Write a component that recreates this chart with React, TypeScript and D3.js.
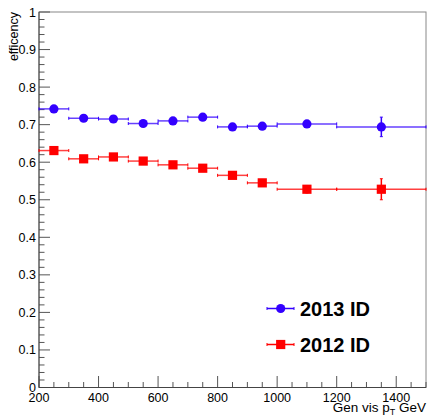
import { useEffect, useRef } from "react";
import * as d3 from "d3";

const W = 428;
const H = 419;
const MARGIN = { top: 12, right: 2, bottom: 31.5, left: 39 };

// bins (low/high edges), shared by both series
const binLow = [200, 300, 400, 500, 600, 700, 800, 900, 1000, 1200];
const binHigh = [300, 400, 500, 600, 700, 800, 900, 1000, 1200, 1500];

const eff2013 = [0.742, 0.717, 0.715, 0.703, 0.71, 0.72, 0.694, 0.696, 0.702, 0.694];
const err2013 = [0.004, 0.004, 0.004, 0.005, 0.005, 0.006, 0.007, 0.008, 0.008, 0.026];

const eff2012 = [0.631, 0.609, 0.614, 0.603, 0.593, 0.584, 0.565, 0.545, 0.528, 0.528];
const err2012 = [0.005, 0.005, 0.005, 0.006, 0.006, 0.007, 0.008, 0.009, 0.01, 0.028];

const xTicks = [200, 400, 600, 800, 1000, 1200, 1400];
const yTicks = [0, 0.1, 0.2, 0.3, 0.4, 0.5, 0.6, 0.7, 0.8, 0.9, 1];

const BLUE = "#3300ff";
const RED = "#ff0000";
const FONT = "'Liberation Sans', Arial, Helvetica, sans-serif";

type Pt = { lo: number; hi: number; v: number; e: number };

function toPoints(vals: number[], errs: number[]): Pt[] {
  return vals.map((v, i) => ({ lo: binLow[i], hi: binHigh[i], v, e: errs[i] }));
}

export default function App() {
  const svgRef = useRef<SVGSVGElement>(null);

  useEffect(() => {
    const svg = svgRef.current;
    if (!svg) return;
    const root = d3.select(svg);
    root.selectAll("*").remove();

    const innerW = W - MARGIN.left - MARGIN.right;
    const innerH = H - MARGIN.top - MARGIN.bottom;

    const x = d3.scaleLinear().domain([200, 1500]).range([0, innerW]);
    const y = d3.scaleLinear().domain([0, 1]).range([innerH, 0]);

    const g = root.append("g").attr("transform", `translate(${MARGIN.left},${MARGIN.top})`);

    // frame
    g.append("rect")
      .attr("x", 0)
      .attr("y", 0)
      .attr("width", innerW)
      .attr("height", innerH)
      .attr("fill", "none")
      .attr("stroke", "#888")
      .attr("stroke-width", 1);

    // y axis ticks: major 0.1, minor 0.02
    const yMinor = d3.range(0, 51).map((i) => i * 0.02);
    g.selectAll(".ymin")
      .data(yMinor)
      .join("line")
      .attr("x1", 0)
      .attr("x2", (d, i) => (i % 5 === 0 ? 11 : 5.5))
      .attr("y1", (d) => y(d))
      .attr("y2", (d) => y(d))
      .attr("stroke", "#555")
      .attr("stroke-width", 1);

    // x axis ticks: major 200, minor 50
    const xMinor = d3.range(200, 1501, 50);
    g.selectAll(".xmin")
      .data(xMinor)
      .join("line")
      .attr("x1", (d) => x(d))
      .attr("x2", (d) => x(d))
      .attr("y1", innerH)
      .attr("y2", (d) => innerH - (d % 200 === 0 ? 11.5 : 5.5))
      .attr("stroke", "#555")
      .attr("stroke-width", 1);

    // axis lines
    g.append("line").attr("x1", 0).attr("x2", 0).attr("y1", 0).attr("y2", innerH).attr("stroke", "#444");
    g.append("line").attr("x1", 0).attr("x2", innerW).attr("y1", innerH).attr("y2", innerH).attr("stroke", "#444");

    // tick labels
    g.selectAll(".ylab")
      .data(yTicks)
      .join("text")
      .attr("x", -3)
      .attr("y", (d) => y(d) + 4.5)
      .attr("text-anchor", "end")
      .attr("font-family", FONT)
      .attr("font-size", 12.5)
      .attr("fill", "#000")
      .text((d) => String(d));

    g.selectAll(".xlab")
      .data(xTicks)
      .join("text")
      .attr("x", (d) => x(d))
      .attr("y", innerH + 14)
      .attr("text-anchor", "middle")
      .attr("font-family", FONT)
      .attr("font-size", 12.5)
      .attr("fill", "#000")
      .text((d) => String(d));

    // axis titles
    root
      .append("text")
      .attr("transform", `translate(17.5,${MARGIN.top}) rotate(-90)`)
      .attr("text-anchor", "end")
      .attr("font-family", FONT)
      .attr("font-size", 12.5)
      .text("efficency");

    const xt = root
      .append("text")
      .attr("x", MARGIN.left + innerW)
      .attr("y", 411.5)
      .attr("text-anchor", "end")
      .attr("font-family", FONT)
      .attr("font-size", 13.5);
    xt.append("tspan").text("Gen vis p");
    xt.append("tspan").attr("font-size", 9).attr("dy", 3).text("T");
    xt.append("tspan").attr("dy", -3).text(" GeV");

    // series
    const drawSeries = (pts: Pt[], color: string, shape: "circle" | "square") => {
      const s = g.append("g");
      // horizontal error bars
      s.selectAll(".h")
        .data(pts)
        .join("line")
        .attr("x1", (d) => x(d.lo))
        .attr("x2", (d) => x(d.hi))
        .attr("y1", (d) => y(d.v))
        .attr("y2", (d) => y(d.v))
        .attr("stroke", color)
        .attr("stroke-opacity", 0.75)
        .attr("stroke-width", 1.5);
      // end caps
      const caps = pts.flatMap((d) => [
        { x: d.lo, v: d.v },
        { x: d.hi, v: d.v },
      ]);
      s.selectAll(".c")
        .data(caps)
        .join("line")
        .attr("x1", (d) => x(d.x))
        .attr("x2", (d) => x(d.x))
        .attr("y1", (d) => y(d.v) - 1.5)
        .attr("y2", (d) => y(d.v) + 1.5)
        .attr("stroke", color)
        .attr("stroke-width", 1);
      // vertical error bars
      s.selectAll(".v")
        .data(pts)
        .join("line")
        .attr("x1", (d) => x((d.lo + d.hi) / 2))
        .attr("x2", (d) => x((d.lo + d.hi) / 2))
        .attr("y1", (d) => y(d.v - d.e))
        .attr("y2", (d) => y(d.v + d.e))
        .attr("stroke", color)
        .attr("stroke-width", 1.5);
      s.selectAll(".vc")
        .data(pts.flatMap((d) => [d.v - d.e, d.v + d.e].map((v) => ({ c: (d.lo + d.hi) / 2, v }))))
        .join("line")
        .attr("x1", (d) => x(d.c) - 1.5)
        .attr("x2", (d) => x(d.c) + 1.5)
        .attr("y1", (d) => y(d.v))
        .attr("y2", (d) => y(d.v))
        .attr("stroke", color)
        .attr("stroke-width", 1);
      if (shape === "circle") {
        s.selectAll(".m")
          .data(pts)
          .join("circle")
          .attr("cx", (d) => x((d.lo + d.hi) / 2))
          .attr("cy", (d) => y(d.v))
          .attr("r", 4.6)
          .attr("fill", color);
      } else {
        s.selectAll(".m")
          .data(pts)
          .join("rect")
          .attr("x", (d) => x((d.lo + d.hi) / 2) - 4.6)
          .attr("y", (d) => y(d.v) - 4.6)
          .attr("width", 9.2)
          .attr("height", 9.2)
          .attr("fill", color);
      }
    };

    drawSeries(toPoints(eff2013, err2013), BLUE, "circle");
    drawSeries(toPoints(eff2012, err2012), RED, "square");

    // legend
    const legend = [
      { label: "2013 ID", color: BLUE, shape: "circle", cy: 308.5 },
      { label: "2012 ID", color: RED, shape: "square", cy: 344.5 },
    ];
    legend.forEach((L) => {
      const lg = root.append("g");
      lg.append("line")
        .attr("x1", 267)
        .attr("x2", 294)
        .attr("y1", L.cy)
        .attr("y2", L.cy)
        .attr("stroke", L.color)
        .attr("stroke-width", 1.5);
      [267, 294].forEach((cx) =>
        lg.append("line").attr("x1", cx).attr("x2", cx).attr("y1", L.cy - 1.5).attr("y2", L.cy + 1.5).attr("stroke", L.color)
      );
      if (L.shape === "circle") {
        lg.append("circle").attr("cx", 280.7).attr("cy", L.cy).attr("r", 4.6).attr("fill", L.color);
      } else {
        lg.append("rect").attr("x", 276.1).attr("y", L.cy - 4.6).attr("width", 9.2).attr("height", 9.2).attr("fill", L.color);
      }
      lg.append("text")
        .attr("x", 300)
        .attr("y", L.cy + 7.3)
        .attr("font-family", FONT)
        .attr("font-weight", "bold")
        .attr("font-size", 20)
        .attr("fill", "#000")
        .text(L.label);
    });
  }, []);

  return (
    <svg
      ref={svgRef}
      width={W}
      height={H}
      style={{ position: "absolute", left: 0, top: 0, background: "#fff" }}
    />
  );
}
